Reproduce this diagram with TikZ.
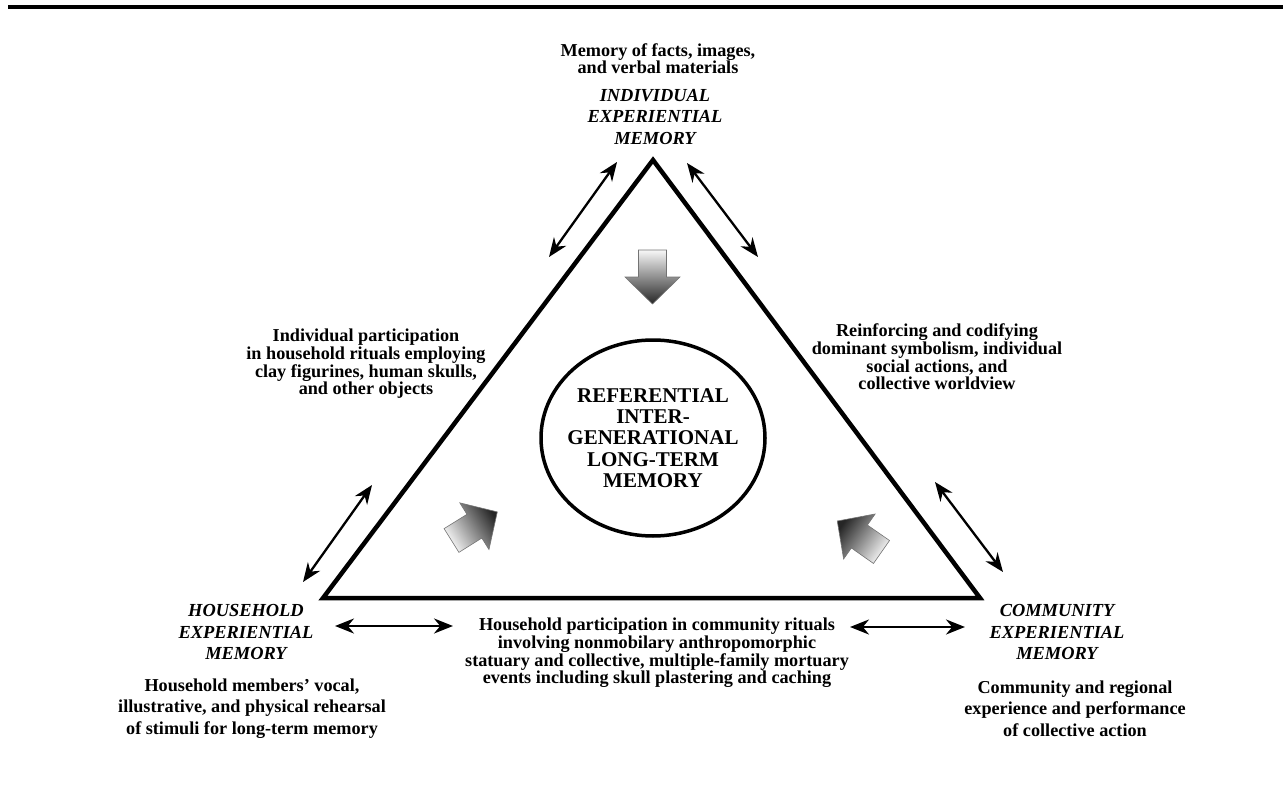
\documentclass[tikz,border=0pt]{standalone}
\usepackage{fontspec}
\setmainfont{Liberation Serif}
\usetikzlibrary{arrows.meta,shapes.geometric}
\tikzset{
>={Stealth[length=19pt,width=15pt]},
doppia/.style={<->,line width=2.3pt},
testo/.style={font=\bfseries\fontsize{18.2}{17.6}\selectfont,align=center,inner sep=0pt},
testolargo/.style={testo,font=\bfseries\fontsize{18.2}{21.7}\selectfont},
etichetta/.style={font=\bfseries\itshape\fontsize{18.4}{21.3}\selectfont,align=center,inner sep=0pt},
blocco/.style={draw=black!55,line width=0.6pt,top color=black!85,bottom color=black!3,shading angle=#1}}
\newcommand{\freccione}[3]{\shade[blocco=#3,shift={#1},rotate=#2] (0,-14) -- (27,-14) -- (27,-27.5) -- (54,0) -- (27,27.5) -- (27,14) -- (0,14) -- cycle;}

\begin{document}
\begin{tikzpicture}[x=1pt,y=-1pt]
\useasboundingbox (0,0) rectangle (1286,792);
\draw[line width=3.6pt] (8,7.3) -- (1283,7.3);

\coordinate (A) at (653,160);
\coordinate (B) at (323,598);
\coordinate (C) at (980,598);
\draw[line width=4.5pt,line join=miter] (A) -- (B) -- (C) -- cycle;

\node[ellipse,draw,line width=3.5pt,minimum width=224pt,minimum height=196pt,inner sep=-20pt,
  font=\bfseries\fontsize{21}{21.3}\selectfont,align=center] (core) at (653,438)
  {REFERENTIAL\\INTER-\\GENERATIONAL\\LONG-TERM\\MEMORY};

\freccione{(652.5,250)}{-90}{-180}
\freccione{(451.5,540.5)}{32}{-58}
\freccione{(881.5,552)}{145}{55}

\node[testo] (ind) at (658,58.5) {Memory of facts, images,\\and verbal materials};
\node[etichetta] (indlab) at (655,117) {INDIVIDUAL\\EXPERIENTIAL\\MEMORY};
\node[testo] (left) at (366,364) {Individual participation\\in household rituals employing\\clay figurines, human skulls,\\and other objects};
\node[testo] (right) at (937,357) {Reinforcing and codifying\\dominant symbolism, individual\\social actions, and\\collective worldview};
\node[etichetta] (hhlab) at (246,632) {HOUSEHOLD\\EXPERIENTIAL\\MEMORY};
\node[testolargo] (hh) at (252,708.5) {Household members' vocal,\\illustrative, and physical rehearsal\\of stimuli for long-term memory};
\node[testo] (mid) at (657,653) {Household participation in community rituals\\involving nonmobilary anthropomorphic\\statuary and collective, multiple-family mortuary\\events including skull plastering and caching};
\node[etichetta] (comlab) at (1057,632) {COMMUNITY\\EXPERIENTIAL\\MEMORY};
\node[testolargo] (com) at (1075,708.5) {Community and regional\\experience and performance\\of collective action};

\coordinate (a1) at (617,162);
\coordinate (a2) at (549,257);
\coordinate (b1) at (687,163);
\coordinate (b2) at (758,257);
\coordinate (c1) at (372,485);
\coordinate (c2) at (303,582);
\coordinate (d1) at (935,482);
\coordinate (d2) at (1003,572);
\coordinate (e1) at (335,626);
\coordinate (e2) at (453,626);
\coordinate (f1) at (850,627);
\coordinate (f2) at (965,627);
\draw[doppia] (a1) -- (a2);
\draw[doppia] (b1) -- (b2);
\draw[doppia] (c1) -- (c2);
\draw[doppia] (d1) -- (d2);
\draw[doppia] (e1) -- (e2);
\draw[doppia] (f1) -- (f2);
\end{tikzpicture}
\end{document}
